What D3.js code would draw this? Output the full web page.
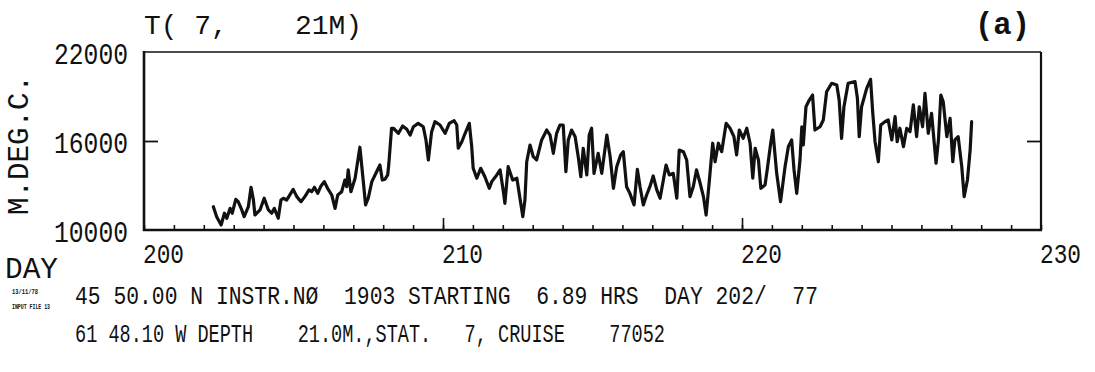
<!DOCTYPE html>
<html>
<head>
<meta charset="utf-8">
<script src="https://cdn.jsdelivr.net/npm/d3@7"></script>
<style>
  html, body { margin: 0; padding: 0; background: #fff; }
  svg { display: block; }
  text { font-family: "Liberation Mono", "DejaVu Sans Mono", monospace; fill: #111; }
</style>
</head>
<body>
<svg id="chart" width="1095" height="372"></svg>
<script>
// Time (day of year) and temperature record, milli-degrees C
const days = [
  202.32,202.43,202.58,202.69,202.77,202.88,202.95,203.07,203.15,203.27,
  203.35,203.49,203.58,203.66,203.71,203.88,204.02,204.16,204.27,204.36,
  204.49,204.58,204.66,204.77,204.99,205.11,205.25,205.38,205.52,205.61,
  205.70,205.81,205.92,206.03,206.14,206.28,206.39,206.48,206.61,206.72,
  206.78,206.83,206.92,207.06,207.22,207.33,207.41,207.50,207.62,207.78,
  207.89,207.97,208.06,208.15,208.19,208.28,
  208.34,208.51,208.65,208.79,208.90,209.01,209.17,209.34,209.43,209.51,
  209.62,209.73,209.90,210.07,210.21,210.37,210.46,210.51,210.63,210.74,
  210.88,210.96,211.01,211.13,211.26,211.40,211.55,211.63,211.80,211.91,
  212.02,212.07,212.18,212.33,212.47,212.60,212.67,212.74,212.80,212.91,
  213.02,213.13,213.30,213.47,213.58,213.69,213.80,213.91,214.02,214.11,
  214.19,214.30,214.42,214.53,214.61,214.69,214.81,214.89,
  214.97,215.05,215.19,215.31,215.48,215.59,215.70,215.81,215.94,216.03,
  216.14,216.25,216.39,216.50,216.59,216.70,216.81,216.92,217.03,217.15,
  217.26,217.37,217.46,217.57,217.70,217.82,217.90,218.04,218.15,218.26,
  218.37,218.48,218.60,218.71,218.80,218.91,219.02,219.10,219.21,219.32,
  219.47,219.60,219.73,219.82,219.91,220.04,220.16,220.27,220.36,220.44,
  220.55,220.63,220.77,220.85,220.96,221.03,
  221.16,221.29,221.44,221.55,221.66,221.74,221.83,221.94,222.00,222.05,
  222.14,222.25,222.36,222.44,222.61,222.72,222.83,223.00,223.17,223.25,
  223.33,223.41,223.55,223.78,223.86,223.92,224.00,224.17,224.30,224.37,
  224.45,224.56,224.64,224.78,224.89,225.01,225.12,225.19,225.28,225.40,
  225.51,225.62,225.73,225.84,225.93,226.04,226.12,226.23,226.34,226.49,
  226.57,226.65,226.73,226.85,226.96,227.05,227.12,227.23,227.35,227.43,
  227.54,227.63,227.68
];

const temps = [
  11570,10900,10340,11130,10790,11460,11130,12070,11910,11350,
  10900,11570,12880,12020,11010,11350,12140,11350,11130,11460,
  10790,12020,12140,12020,12740,12250,11910,12250,12700,12580,
  12880,12470,12970,13260,12810,12360,11460,12360,12580,13370,
  12920,14050,12580,13490,15580,13370,11690,12140,13260,13930,
  14380,13370,13420,13710,14500,16860,
  16860,16520,17010,16790,16400,16960,17190,16960,16070,14720,
  16630,17300,17080,16520,17190,17370,17080,15510,15950,16520,
  17190,15620,14160,13490,14160,13590,12810,13260,13710,14050,
  12580,11800,14270,13370,13490,11800,10900,12020,14600,15730,
  14940,14720,16070,16740,16400,15170,16520,17080,17080,13930,
  16070,16740,16290,14830,13590,15510,13710,16400,
  16860,13820,15170,13820,16400,14940,12810,14270,15060,15280,
  12920,12470,11690,14090,12920,11690,12360,12920,13640,12700,
  12140,13370,14380,13710,13820,12140,15390,15280,14720,12250,
  12920,14050,13150,12250,11010,13370,15850,14600,15850,15280,
  17190,16860,16290,15060,16740,16180,16860,15850,13490,15510,
  14720,12810,13030,14160,15850,16740,
  13820,11910,14270,15620,16070,14050,12470,14720,16960,15730,
  18310,18760,19100,16740,16960,17420,19320,19890,19780,18760,
  16180,18310,19890,20000,18880,16290,18310,19550,20160,17980,
  15950,14600,17080,17300,17420,16070,17640,15950,16860,15620,
  16860,16630,18430,16290,18310,16960,19220,16520,17870,14500,
  16070,19100,18650,16290,17530,14600,16070,16290,14270,12250,
  13370,15390,17300
];

const xDomain = [200, 230];
const yDomain = [10000, 22000];
const xMinorTicks = d3.range(200, 231, 1);
const xMajorTicks = [210, 220];
const xLabelTicks = [200, 210, 220, 230];
const yTicks = [10000, 16000, 22000];
const yInnerTicks = [16000];

const titleText = "T( 7,    21M)";
const panelTag = "(a)";
const yAxisTitle = "M.DEG.C.";
const xAxisTitle = "DAY";
const footerLines = [
  "45 50.00 N INSTR.NØ  1903 STARTING  6.89 HRS  DAY 202/  77",
  "61 48.10 W DEPTH    21.0M.,STAT.   7, CRUISE    77052"
];
const stampLines = ["13/11/78", "INPUT FILE 13"];

const svg = d3.select("#chart");
const L = 144, R = 1041, T = 52, B = 230;

const x = d3.scaleLinear().domain(xDomain).range([L, R]);
const y = d3.scaleLinear().domain(yDomain).range([B, T]);

const ink = "#111";

// frame: heavier left/bottom edges, lighter top
const frame = svg.append("g").attr("stroke", ink).attr("fill", "none");
frame.append("line").attr("x1", L).attr("x2", R).attr("y1", T).attr("y2", T).attr("stroke-width", 1.6);
frame.append("line").attr("x1", R).attr("x2", R).attr("y1", T).attr("y2", B).attr("stroke-width", 2.2);
frame.append("line").attr("x1", L).attr("x2", L).attr("y1", T - 1).attr("y2", B + 1).attr("stroke-width", 2.6);
frame.append("line").attr("x1", L - 1).attr("x2", R + 1).attr("y1", B).attr("y2", B).attr("stroke-width", 2.6);

// inward day ticks on bottom edge
const minorAxis = d3.axisBottom(x).tickValues(xMinorTicks).tickSize(-5).tickFormat("");
const gMinor = svg.append("g").attr("transform", `translate(0,${B})`).call(minorAxis);
const majorAxis = d3.axisBottom(x).tickValues(xMajorTicks).tickSize(-12).tickFormat("");
const gMajor = svg.append("g").attr("transform", `translate(0,${B})`).call(majorAxis);
[gMinor, gMajor].forEach(g => {
  g.select(".domain").remove();
  g.selectAll(".tick line").attr("stroke", ink).attr("stroke-width", 1.6);
});

// inward value ticks on both side edges
const leftAxis = d3.axisLeft(y).tickValues(yInnerTicks).tickSize(-14).tickFormat("");
const gLeft = svg.append("g").attr("transform", `translate(${L},0)`).call(leftAxis);
const rightAxis = d3.axisRight(y).tickValues(yInnerTicks).tickSize(-14).tickFormat("");
const gRight = svg.append("g").attr("transform", `translate(${R},0)`).call(rightAxis);
[gLeft, gRight].forEach(g => {
  g.select(".domain").remove();
  g.selectAll(".tick line").attr("stroke", ink).attr("stroke-width", 1.8);
});

// condensed plotter-style text helper
function plotText(sel, size, width) {
  sel.attr("font-size", size)
     .attr("xml:space", "preserve")
     .style("white-space", "pre");
  if (width) sel.attr("textLength", width).attr("lengthAdjust", "spacingAndGlyphs");
  return sel;
}

// tick labels
svg.append("g").selectAll("text").data(xLabelTicks).join("text")
  .attr("x", d => x(d) - 1)
  .attr("y", 263)
  .attr("text-anchor", "start")
  .call(plotText, 27, 41)
  .text(d => d);

svg.append("g").selectAll("text").data(yTicks).join("text")
  .attr("x", 128)
  .attr("y", d => y(d) + 12)
  .attr("text-anchor", "end")
  .call(plotText, 29, 74)
  .text(d => d);

// axis titles
svg.append("text")
  .attr("transform", `translate(28,145) rotate(-90)`)
  .attr("text-anchor", "middle")
  .call(plotText, 29, 140)
  .text(yAxisTitle);

svg.append("text")
  .attr("x", 5).attr("y", 278)
  .call(plotText, 29, 53)
  .text(xAxisTitle);

// title and panel tag
svg.append("text")
  .attr("x", 144).attr("y", 34)
  .call(plotText, 28, 218)
  .text(titleText);

svg.append("text")
  .attr("x", 975).attr("y", 34)
  .style("font-weight", 700)
  .call(plotText, 31, 55)
  .text(panelTag);

// footer
const footerWidths = [743, 590];
svg.append("g").selectAll("text").data(footerLines).join("text")
  .attr("x", 75)
  .attr("y", (d, i) => 304 + i * 38)
  .each(function (d, i) { d3.select(this).call(plotText, 25, footerWidths[i]); })
  .text(d => d);

const stampWidths = [26, 38];
svg.append("g").selectAll("text").data(stampLines).join("text")
  .attr("x", 12)
  .attr("y", (d, i) => 294 + i * 15)
  .style("font-weight", 700)
  .each(function (d, i) { d3.select(this).call(plotText, 8, stampWidths[i]); })
  .text(d => d);

// temperature trace
const series = days.map((d, i) => ({ day: d, t: temps[i] }));
const line = d3.line().x(d => x(d.day)).y(d => y(d.t));
svg.append("path")
  .datum(series)
  .attr("d", line)
  .attr("fill", "none")
  .attr("stroke", ink)
  .attr("stroke-width", 3.2)
  .attr("stroke-linejoin", "round")
  .attr("stroke-linecap", "round");
</script>
</body>
</html>
